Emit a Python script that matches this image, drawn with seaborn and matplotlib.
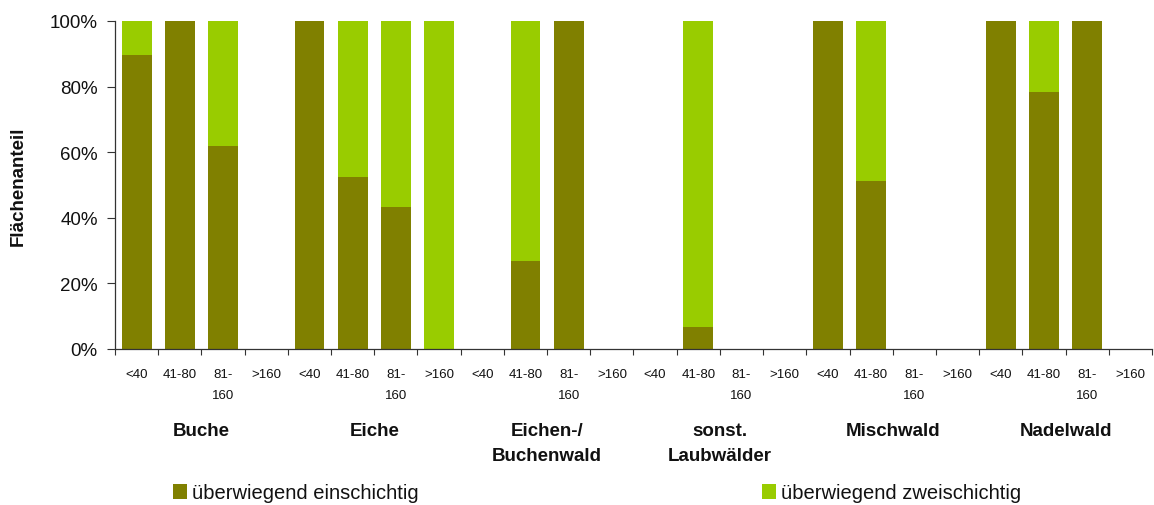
import numpy as np
import pandas as pd
import matplotlib
matplotlib.use("Agg")
import matplotlib.pyplot as plt
from matplotlib.patches import Patch
from matplotlib.ticker import FixedLocator, FuncFormatter
import matplotlib.transforms as mtransforms
import seaborn as sns

# Forest types and age classes (years)
groups = ["Buche", "Eiche", "Eichen-/\nBuchenwald", "sonst.\nLaubwälder", "Mischwald", "Nadelwald"]
age_classes = ["<40", "41-80", "81-\n160", ">160"]

# Share of area (%) per forest type and age class
einschichtig = [89.6, 100, 61.9, 0,
                100, 52.5, 43.3, 0,
                0, 26.9, 100, 0,
                0, 6.8, 0, 0,
                100, 51.3, 0, 0,
                100, 78.4, 100, 0]
zweischichtig = [10.4, 0, 38.1, 0,
                 0, 47.5, 56.7, 100,
                 0, 73.1, 0, 0,
                 0, 93.2, 0, 0,
                 0, 48.7, 0, 0,
                 0, 21.6, 0, 0]

series_names = ["überwiegend einschichtig", "überwiegend zweischichtig"]
colors = ["#808000", "#99CC00"]

sns.set_theme(style="white")
plt.rcParams["font.family"] = ["Liberation Sans", "DejaVu Sans"]

n_age = len(age_classes)
positions = list(range(len(groups) * n_age))
df = pd.DataFrame({
    "pos": positions,
    "ein": einschichtig,
    "zwei": zweischichtig,
})
df["total"] = df["ein"] + df["zwei"]

fig = plt.figure(figsize=(11.54, 5.06), dpi=100)
ax = fig.add_axes([115 / 1154, 1 - 350 / 506, 1037 / 1154, 328 / 506])

# Stacked bars: full stack in the upper colour, lower segment on top of it
sns.barplot(data=df, x="pos", y="total", color=colors[1], saturation=1,
            width=0.69, native_scale=True, ax=ax, errorbar=None)
sns.barplot(data=df, x="pos", y="ein", color=colors[0], saturation=1,
            width=0.69, native_scale=True, ax=ax, errorbar=None)
for p in ax.patches:
    p.set_edgecolor("none")
    p.set_linewidth(0)

ax.set_xlim(-0.5, len(positions) - 0.5)
ax.set_ylim(0, 100)
ax.set_yticks(np.arange(0, 101, 20))
ax.yaxis.set_major_formatter(FuncFormatter(lambda v, _: f"{int(v)}%"))
ax.tick_params(axis="y", direction="out", length=5.5, width=0.8, color="#333333",
               labelsize=13.5, pad=7, left=True, labelcolor="#111111")

# x: labels at bar centres, tick marks at category boundaries
ax.set_xticks(positions)
ax.set_xticklabels([age_classes[i % n_age] for i in positions], fontsize=9.5,
                   linespacing=1.9, va="top")
ax.tick_params(axis="x", which="major", length=0, pad=14, labelcolor="#111111")
ax.xaxis.set_minor_locator(FixedLocator(np.arange(-0.5, len(positions) + 0.5, 1)))
ax.tick_params(axis="x", which="minor", direction="out", length=4.5, width=0.8,
               color="#333333", bottom=True)

ax.set_xlabel("")
ax.set_ylabel("Flächenanteil", fontsize=13.5, fontweight="bold", color="#111111")
ax.yaxis.set_label_coords(-0.085, 0.5)

for side in ["top", "right"]:
    ax.spines[side].set_visible(False)
for side in ["left", "bottom"]:
    ax.spines[side].set_color("#333333")
    ax.spines[side].set_linewidth(0.9)

# Forest type labels below the age classes
trans = mtransforms.blended_transform_factory(ax.transData, ax.transAxes)
for gi, name in enumerate(groups):
    cx = gi * n_age + (n_age - 1) / 2
    ax.text(cx, -0.222, name, transform=trans, ha="center", va="top",
            fontsize=13.5, fontweight="bold", color="#111111", linespacing=1.65)

# Legend entries at the bottom
legend_x = [173 / 1154, 762 / 1154]
for name, col, lx in zip(series_names, colors, legend_x):
    fig.legend(handles=[Patch(facecolor=col, edgecolor="none")], labels=[name],
               loc="center left", bbox_to_anchor=(lx, 1 - 494 / 506),
               frameon=False, fontsize=14.5, handlelength=0.7, handleheight=0.7,
               handletextpad=0.25, borderpad=0, borderaxespad=0,
               labelcolor="#111111")

fig.savefig("out.png", dpi=100)
